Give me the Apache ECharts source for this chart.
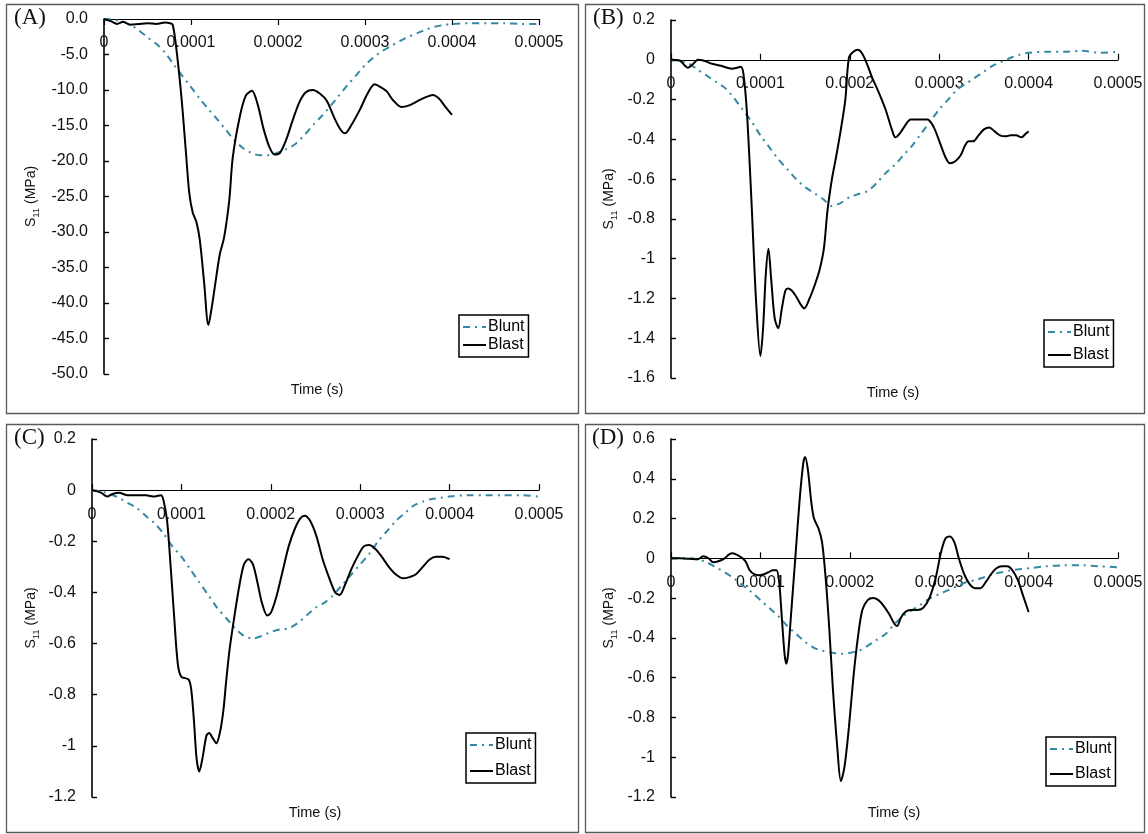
<!DOCTYPE html>
<html>
<head>
<meta charset="utf-8">
<script src="https://cdn.jsdelivr.net/npm/echarts@6/dist/echarts.min.js"></script>
<style>
  html, body { margin: 0; padding: 0; background: #fff; }
  #chart { width: 1148px; height: 834px; }
</style>
</head>
<body>
<div id="chart"></div>
<script>
// S11 stress histories, time [s] vs stress [MPa]
const timeTicks = [0, 0.0001, 0.0002, 0.0003, 0.0004, 0.0005];

// (A)
const bluntA = [[0,0],[0.00001,-0.1],[0.00002,-0.35],[0.00003,-0.8],[0.00004,-1.6],[0.00005,-2.6],[0.00006,-3.5],[0.00007,-4.7],[0.00008,-6.4],[0.00009,-8.0],[0.0001,-9.6],[0.00011,-11.2],[0.00012,-12.7],[0.00013,-14.1],[0.00014,-15.6],[0.00015,-17.1],[0.00016,-18.2],[0.00017,-18.9],[0.00018,-19.2],[0.00019,-19.2],[0.0002,-18.8],[0.00021,-18.3],[0.00022,-17.6],[0.00023,-16.4],[0.00024,-15.0],[0.00025,-13.7],[0.00026,-12.3],[0.00027,-10.8],[0.00028,-9.3],[0.00029,-7.9],[0.0003,-6.5],[0.00031,-5.4],[0.00032,-4.5],[0.00033,-3.8],[0.00034,-3.1],[0.00035,-2.5],[0.00036,-2.0],[0.00037,-1.5],[0.00038,-1.1],[0.00039,-0.85],[0.0004,-0.7],[0.00042,-0.6],[0.00044,-0.6],[0.00046,-0.6],[0.00048,-0.7],[0.0005,-0.7]];
const blastA = [[0,0],[0.000008,-0.3],[0.000015,-0.7],[0.000022,-0.4],[0.00003,-0.8],[0.00004,-0.7],[0.00005,-0.6],[0.00006,-0.7],[0.00007,-0.5],[0.000076,-0.6],[0.000079,-0.8],[0.000083,-4],[0.000089,-11],[0.000094,-18.5],[0.000098,-24.5],[0.000102,-27.3],[0.000106,-28.5],[0.00011,-31],[0.000115,-37],[0.00012,-43.1],[0.000124,-40.5],[0.000128,-37.2],[0.000133,-33.2],[0.000138,-30.8],[0.000144,-25.5],[0.000148,-19.5],[0.000156,-13.8],[0.000163,-10.8],[0.00017,-10.1],[0.000177,-12.2],[0.000183,-15.3],[0.00019,-18],[0.000196,-19.1],[0.000202,-18.9],[0.00021,-16.8],[0.000217,-14.2],[0.000225,-11.6],[0.000232,-10.3],[0.00024,-10.0],[0.000248,-10.5],[0.000256,-11.5],[0.000265,-14],[0.000272,-15.6],[0.000277,-16.1],[0.000284,-15],[0.000294,-12.8],[0.000303,-10.5],[0.000311,-9.2],[0.000318,-9.6],[0.000325,-10.2],[0.000332,-11.4],[0.000342,-12.4],[0.00035,-12.2],[0.00036,-11.6],[0.00037,-11.0],[0.000378,-10.7],[0.000385,-11.2],[0.000392,-12.3],[0.0004,-13.5]];

// (B)
const bluntB = [[0,0],[0.00001,-0.005],[0.00002,-0.02],[0.00003,-0.05],[0.00004,-0.08],[0.00005,-0.11],[0.00006,-0.14],[0.00007,-0.19],[0.00008,-0.25],[0.00009,-0.31],[0.0001,-0.38],[0.00011,-0.44],[0.00012,-0.50],[0.00013,-0.55],[0.00014,-0.60],[0.00015,-0.64],[0.00016,-0.67],[0.00017,-0.70],[0.00018,-0.735],[0.00019,-0.72],[0.0002,-0.69],[0.00021,-0.675],[0.00022,-0.66],[0.00023,-0.62],[0.00024,-0.57],[0.00025,-0.53],[0.00026,-0.48],[0.00027,-0.43],[0.00028,-0.37],[0.00029,-0.31],[0.0003,-0.25],[0.00031,-0.20],[0.00032,-0.15],[0.00033,-0.12],[0.00034,-0.09],[0.00035,-0.06],[0.00036,-0.03],[0.00037,-0.01],[0.00038,0.01],[0.00039,0.025],[0.0004,0.035],[0.00042,0.04],[0.00044,0.04],[0.00046,0.045],[0.00048,0.035],[0.0005,0.04]];
const blastB = [[0,0],[0.00001,-0.005],[0.000019,-0.04],[0.000025,-0.02],[0.00003,0],[0.000037,-0.005],[0.000046,-0.02],[0.000056,-0.03],[0.000068,-0.045],[0.000074,-0.04],[0.000078,-0.035],[0.000081,-0.07],[0.000085,-0.27],[0.00009,-0.71],[0.000095,-1.2],[0.0001,-1.49],[0.000103,-1.35],[0.000106,-1.08],[0.000109,-0.95],[0.000112,-1.1],[0.000116,-1.3],[0.00012,-1.35],[0.000124,-1.25],[0.000128,-1.16],[0.000131,-1.15],[0.000135,-1.16],[0.00014,-1.19],[0.000145,-1.23],[0.000149,-1.25],[0.000155,-1.2],[0.000161,-1.13],[0.000166,-1.06],[0.000171,-0.95],[0.000175,-0.76],[0.00018,-0.6],[0.000185,-0.48],[0.00019,-0.35],[0.000195,-0.2],[0.000199,0.01],[0.000204,0.04],[0.000209,0.05],[0.000214,0.03],[0.00022,-0.03],[0.000225,-0.09],[0.000232,-0.16],[0.00024,-0.25],[0.000247,-0.35],[0.000251,-0.39],[0.000256,-0.37],[0.000262,-0.33],[0.000268,-0.30],[0.000278,-0.30],[0.000287,-0.30],[0.000294,-0.34],[0.000301,-0.42],[0.000307,-0.49],[0.000312,-0.52],[0.000318,-0.51],[0.000324,-0.48],[0.000329,-0.43],[0.000333,-0.41],[0.000338,-0.41],[0.000344,-0.38],[0.00035,-0.35],[0.000356,-0.34],[0.000362,-0.36],[0.000368,-0.38],[0.000374,-0.385],[0.00038,-0.38],[0.000386,-0.38],[0.000392,-0.39],[0.000396,-0.375],[0.0004,-0.36]];

// (C)
const bluntC = [[0,0],[0.00001,-0.005],[0.00002,-0.015],[0.00003,-0.03],[0.00004,-0.05],[0.00005,-0.07],[0.00006,-0.10],[0.00007,-0.13],[0.00008,-0.17],[0.00009,-0.22],[0.0001,-0.26],[0.00011,-0.31],[0.00012,-0.36],[0.00013,-0.41],[0.00014,-0.46],[0.00015,-0.50],[0.00016,-0.54],[0.00017,-0.57],[0.00018,-0.58],[0.00019,-0.57],[0.0002,-0.555],[0.00021,-0.545],[0.00022,-0.54],[0.00023,-0.52],[0.00024,-0.49],[0.00025,-0.46],[0.00026,-0.44],[0.00027,-0.41],[0.00028,-0.37],[0.00029,-0.33],[0.0003,-0.29],[0.00031,-0.25],[0.00032,-0.20],[0.00033,-0.16],[0.00034,-0.12],[0.00035,-0.09],[0.00036,-0.06],[0.00037,-0.045],[0.00038,-0.035],[0.00039,-0.03],[0.0004,-0.025],[0.00042,-0.02],[0.00044,-0.02],[0.00046,-0.02],[0.00048,-0.02],[0.0005,-0.025]];
const blastC = [[0,0],[0.00001,-0.01],[0.000017,-0.025],[0.000023,-0.015],[0.00003,-0.01],[0.00004,-0.02],[0.00005,-0.02],[0.00006,-0.02],[0.00007,-0.025],[0.000077,-0.02],[0.00008,-0.04],[0.000084,-0.12],[0.000088,-0.3],[0.000092,-0.5],[0.000096,-0.68],[0.0001,-0.73],[0.000108,-0.74],[0.000111,-0.78],[0.000114,-0.9],[0.000117,-1.05],[0.00012,-1.10],[0.000124,-1.04],[0.000128,-0.96],[0.000131,-0.95],[0.000135,-0.97],[0.000139,-0.99],[0.000143,-0.95],[0.000147,-0.86],[0.00015,-0.75],[0.000154,-0.62],[0.000159,-0.5],[0.000165,-0.37],[0.00017,-0.29],[0.000175,-0.27],[0.00018,-0.29],[0.000185,-0.36],[0.00019,-0.44],[0.000196,-0.49],[0.0002,-0.48],[0.000206,-0.42],[0.000213,-0.32],[0.00022,-0.22],[0.000227,-0.15],[0.000233,-0.11],[0.000238,-0.10],[0.000244,-0.12],[0.000251,-0.18],[0.000258,-0.27],[0.000265,-0.34],[0.000272,-0.40],[0.000277,-0.41],[0.000283,-0.37],[0.00029,-0.31],[0.000297,-0.26],[0.000304,-0.22],[0.00031,-0.215],[0.000317,-0.23],[0.000324,-0.26],[0.000332,-0.30],[0.00034,-0.33],[0.000348,-0.345],[0.000355,-0.34],[0.000362,-0.33],[0.00037,-0.30],[0.000378,-0.27],[0.000385,-0.26],[0.000392,-0.26],[0.0004,-0.27]];

// (D)
const bluntD = [[0,0],[0.00001,0],[0.00002,0],[0.00003,-0.005],[0.00004,-0.02],[0.00005,-0.045],[0.00006,-0.07],[0.00007,-0.10],[0.00008,-0.135],[0.00009,-0.17],[0.0001,-0.21],[0.00011,-0.25],[0.00012,-0.29],[0.00013,-0.34],[0.00014,-0.38],[0.00015,-0.42],[0.00016,-0.45],[0.00017,-0.465],[0.00018,-0.475],[0.00019,-0.48],[0.0002,-0.475],[0.00021,-0.465],[0.00022,-0.44],[0.00023,-0.41],[0.00024,-0.38],[0.00025,-0.33],[0.00026,-0.29],[0.00027,-0.26],[0.00028,-0.23],[0.00029,-0.20],[0.0003,-0.18],[0.00031,-0.16],[0.00032,-0.14],[0.00033,-0.12],[0.00034,-0.11],[0.00035,-0.095],[0.00036,-0.08],[0.00037,-0.07],[0.00038,-0.06],[0.00039,-0.055],[0.0004,-0.05],[0.00042,-0.04],[0.00044,-0.035],[0.00046,-0.035],[0.00048,-0.04],[0.0005,-0.045]];
const blastD = [[0,0],[0.00001,0],[0.00002,-0.002],[0.00003,-0.005],[0.000036,0.01],[0.000042,0.0],[0.000047,-0.02],[0.000053,-0.015],[0.00006,0.0],[0.000065,0.02],[0.000069,0.025],[0.000075,0.015],[0.00008,0.0],[0.000084,-0.02],[0.000088,-0.06],[0.000093,-0.08],[0.000098,-0.085],[0.000104,-0.08],[0.000109,-0.07],[0.000114,-0.06],[0.000118,-0.06],[0.000121,-0.12],[0.000124,-0.3],[0.000127,-0.48],[0.000129,-0.53],[0.000131,-0.48],[0.000134,-0.3],[0.000139,0.0],[0.000144,0.3],[0.000148,0.48],[0.00015,0.51],[0.000153,0.45],[0.000157,0.28],[0.00016,0.2],[0.000165,0.15],[0.000169,0.08],[0.000173,-0.1],[0.000177,-0.35],[0.000181,-0.65],[0.000186,-0.95],[0.00019,-1.12],[0.000194,-1.05],[0.000199,-0.85],[0.000204,-0.6],[0.000209,-0.4],[0.000214,-0.26],[0.00022,-0.21],[0.000226,-0.2],[0.000232,-0.21],[0.000238,-0.24],[0.000244,-0.28],[0.00025,-0.33],[0.000253,-0.34],[0.000257,-0.3],[0.000262,-0.27],[0.000268,-0.26],[0.000275,-0.26],[0.000282,-0.25],[0.000289,-0.2],[0.000296,-0.1],[0.000302,0.03],[0.000307,0.1],[0.000312,0.11],[0.000317,0.08],[0.000322,0.0],[0.000328,-0.08],[0.000334,-0.13],[0.00034,-0.15],[0.000346,-0.15],[0.000352,-0.12],[0.000358,-0.08],[0.000364,-0.05],[0.00037,-0.04],[0.000376,-0.04],[0.000382,-0.06],[0.000388,-0.11],[0.000394,-0.19],[0.0004,-0.27]];

// y ranges per panel: [min, max, step, decimals]
const yRangeA = [-50, 0, 5, 1];
const yRangeB = [-1.6, 0.2, 0.2, -1];
const yRangeC = [-1.2, 0.2, 0.2, -1];
const yRangeD = [-1.2, 0.6, 0.2, -1];

const panelLetters = ['(A)', '(B)', '(C)', '(D)'];
const seriesNames = ['Blunt', 'Blast'];
const xTitle = 'Time (s)';

const SANS = '"Liberation Sans", Arial, sans-serif';
const SERIF = '"Liberation Serif", "Times New Roman", serif';
const BLUNT_COLOR = '#3489a4';

const panels = [
  { blunt: bluntA, blast: blastA, y: yRangeA, grid: { left: 104, top: 19, width: 435, height: 355 },
    tickDown: true, nameGap: 63, frame: [6.5, 4.5, 572, 409], letter: [14, 6],
    title: [317, 390], legend: { left: 459, top: 315, itemGap: 2 } },
  { blunt: bluntB, blast: blastB, y: yRangeB, grid: { left: 671, top: 20, width: 447, height: 358 },
    tickDown: false, nameGap: 52, frame: [585.5, 4.5, 559, 409], letter: [593, 6],
    title: [893, 393], legend: { left: 1044, top: 320, itemGap: 7 } },
  { blunt: bluntC, blast: blastC, y: yRangeC, grid: { left: 92, top: 439, width: 447, height: 358 },
    tickDown: false, nameGap: 51, frame: [6.5, 424.5, 572, 408], letter: [14, 426],
    title: [315, 813], legend: { left: 466, top: 733, itemGap: 10 } },
  { blunt: bluntD, blast: blastD, y: yRangeD, grid: { left: 671, top: 439, width: 447, height: 358 },
    tickDown: false, nameGap: 52, frame: [585.5, 424.5, 559, 408], letter: [592, 426],
    title: [894, 813], legend: { left: 1046, top: 737, itemGap: 9 } }
];

function fmtY(dec) {
  return function (v) {
    if (dec >= 0) return v.toFixed(dec);
    const r = Math.round(v * 10) / 10;
    return String(r === 0 ? 0 : r);
  };
}

const option = {
  animation: false,
  backgroundColor: '#fff',
  grid: [], xAxis: [], yAxis: [], series: [], legend: [], graphic: []
};

panels.forEach((p, i) => {
  const yMin = p.y[0], yMax = p.y[1];
  // time axis sits on the zero-stress line, labels underneath it
  const zeroOffset = -p.grid.height * (0 - yMin) / (yMax - yMin);
  option.grid.push(Object.assign({ containLabel: false }, p.grid));
  option.xAxis.push({
    type: 'value', gridIndex: i, position: 'bottom', offset: zeroOffset,
    min: timeTicks[0], max: timeTicks[timeTicks.length - 1], interval: timeTicks[1] - timeTicks[0],
    axisLine: { onZero: false, lineStyle: { color: '#000', width: 1.2 } },
    axisTick: { show: true, inside: !p.tickDown, length: 6, lineStyle: { color: '#000', width: 1.2 } },
    axisLabel: { margin: 16, fontFamily: SANS, fontSize: 16, color: '#111',
      formatter: v => (v === 0 ? '0' : v.toFixed(4)) },
    splitLine: { show: false }
  });
  option.yAxis.push({
    type: 'value', gridIndex: i,
    min: yMin, max: yMax, interval: p.y[2],
    name: '{s|S}{sub|11}{s| (MPa)}',
    nameLocation: 'middle', nameRotate: 90, nameGap: p.nameGap,
    nameTextStyle: { fontFamily: SANS, color: '#111',
      rich: {
        s: { fontFamily: SANS, fontSize: 14, color: '#111', lineHeight: 20 },
        sub: { fontFamily: SANS, fontSize: 9.5, color: '#111', lineHeight: 20, verticalAlign: 'bottom' }
      } },
    axisLine: { show: true, onZero: false, lineStyle: { color: '#000', width: 1.6 } },
    axisTick: { show: true, inside: true, length: 5, lineStyle: { color: '#000', width: 1.4 } },
    axisLabel: { margin: 16, fontFamily: SANS, fontSize: 16, color: '#111', formatter: fmtY(p.y[3]) },
    splitLine: { show: false }
  });
  option.series.push({
    name: seriesNames[0], type: 'line', xAxisIndex: i, yAxisIndex: i,
    data: p.blunt, smooth: 0.3, symbol: 'none', z: 3,
    lineStyle: { color: BLUNT_COLOR, width: 2, type: [7, 5, 2, 5] },
    itemStyle: { color: BLUNT_COLOR }
  });
  option.series.push({
    name: seriesNames[1], type: 'line', xAxisIndex: i, yAxisIndex: i,
    data: p.blast, smooth: 0.3, symbol: 'none', z: 4,
    lineStyle: { color: '#000', width: 2 },
    itemStyle: { color: '#000' }
  });
  option.legend.push({
    data: seriesNames, orient: 'vertical',
    left: p.legend.left, top: p.legend.top, itemGap: p.legend.itemGap,
    itemWidth: 23, itemHeight: 12,
    padding: [4, 4, 4, 3],
    itemStyle: { opacity: 0 },
    borderColor: '#000', borderWidth: 1.5, backgroundColor: '#fff',
    textStyle: { fontFamily: SANS, fontSize: 16, color: '#000', padding: [0, 0, 0, -3] },
    selectedMode: false
  });
  // panel frame
  option.graphic.push({
    type: 'rect', silent: true, z: 0,
    shape: { x: p.frame[0], y: p.frame[1], width: p.frame[2], height: p.frame[3] },
    style: { fill: null, stroke: '#5a5a5a', lineWidth: 1.3 }
  });
  // panel letter
  option.graphic.push({
    type: 'text', silent: true, left: p.letter[0], top: p.letter[1],
    style: { text: panelLetters[i], font: '23px ' + SERIF, fill: '#111' }
  });
  // x axis title
  option.graphic.push({
    type: 'text', silent: true, x: p.title[0], y: p.title[1],
    style: { text: xTitle, font: '14.5px ' + SANS, fill: '#111', align: 'center', verticalAlign: 'middle' }
  });
});

const chart = echarts.init(document.getElementById('chart'), null, { renderer: 'canvas' });
chart.setOption(option);
</script>
</body>
</html>
